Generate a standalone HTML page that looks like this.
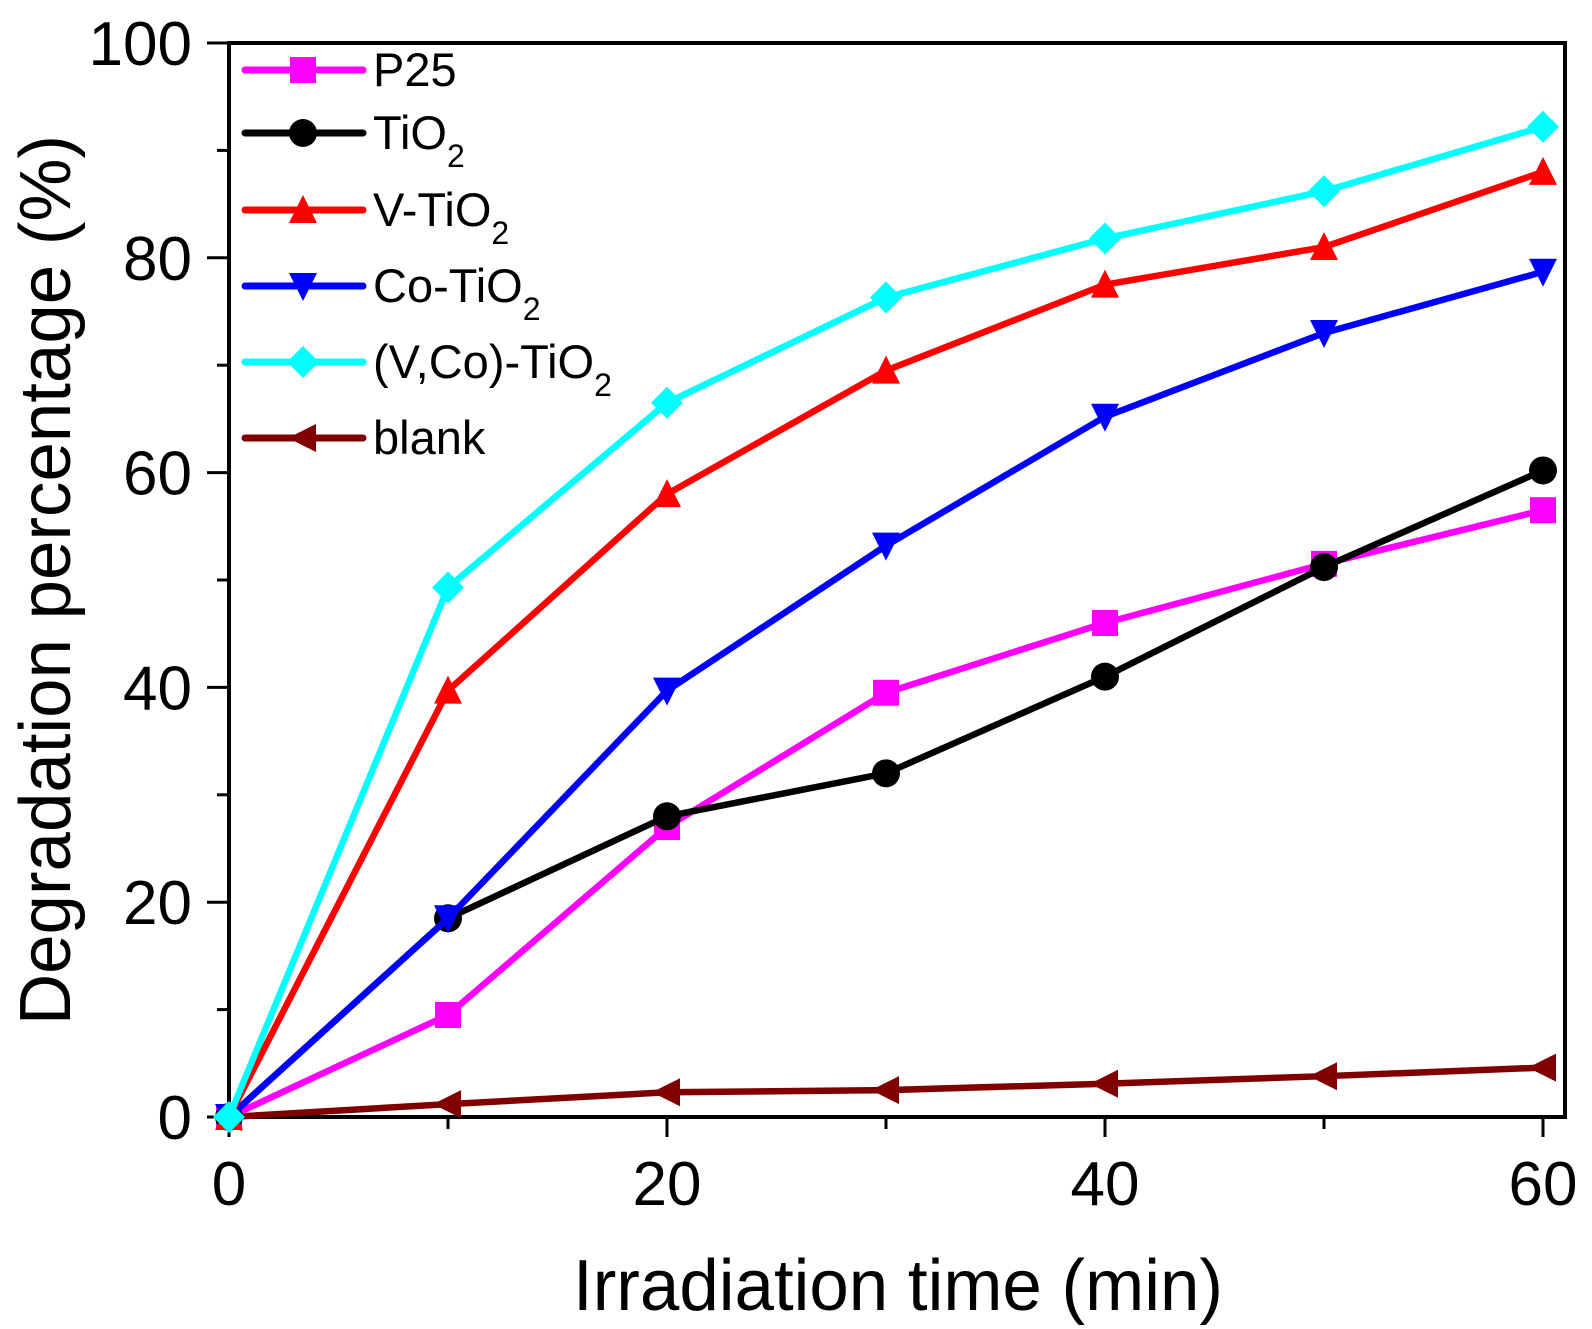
<!DOCTYPE html>
<html><head><meta charset="utf-8"><style>
html,body{margin:0;padding:0;background:#fff;}
svg{display:block;font-family:"Liberation Sans",Arial,sans-serif;}
</style></head><body>
<svg id="chart" width="1592" height="1329" viewBox="0 0 1592 1329" xmlns="http://www.w3.org/2000/svg">
<g id="axes"></g><g id="series"></g><g id="legend"></g>
</svg>
<script>
const times = [0,10,20,30,40,50,60];
const p25 = [0,9.5,27,39.5,46,51.5,56.5];
const tio2 = [0,18.5,28,32,41,51.2,60.2];
const vTio2 = [0,39.7,58,69.5,77.5,81,88];
const coTio2 = [0,18.5,39.7,53.2,65.2,73,78.7];
const vcoTio2 = [0,49.3,66.5,76.3,81.8,86.2,92.2];
const blank = [0,1.2,2.3,2.5,3.1,3.8,4.6];
const xTicks = [0,20,40,60];
const yTicks = [0,20,40,60,80,100];
const seriesNames = ["P25","TiO2","V-TiO2","Co-TiO2","(V,Co)-TiO2","blank"];

const NS="http://www.w3.org/2000/svg";
const X0=229,X1=1543,Y0=1117,Y1=43;
const xs=v=>X0+(v/60)*(X1-X0);
const ys=v=>Y0-(v/100)*(Y0-Y1);
function mk(tag,attrs,parent){const e=document.createElementNS(NS,tag);for(const k in attrs)e.setAttribute(k,attrs[k]);parent.appendChild(e);return e;}
const axes=document.getElementById('axes'),ser=document.getElementById('series'),leg=document.getElementById('legend');

let fr=mk('rect',{x:X0,y:Y1,width:1565-X0,height:Y0-Y1,fill:'none',stroke:'#000','stroke-width':4},axes);


for(let t=0;t<=60;t+=10){
  const major=xTicks.includes(t);
  const l=mk('line',{x1:xs(t),x2:xs(t),y1:Y0,y2:Y0+(major?20:12),stroke:'#000','stroke-width':3},axes);
  
  
}
xTicks.forEach(t=>{
  const tx=mk('text',{x:xs(t),y:1205,'font-size':62,'text-anchor':'middle',fill:'#000'},axes);
  tx.textContent=t;
  
  
});
for(let t=0;t<=100;t+=10){
  const major=yTicks.includes(t);
  const l=mk('line',{x1:X0-(major?22:12),x2:X0,y1:ys(t),y2:ys(t),stroke:'#000','stroke-width':3},axes);
  
  
}
yTicks.forEach(t=>{
  const tx=mk('text',{x:192,y:ys(t)+22,'font-size':62,'text-anchor':'end',fill:'#000'},axes);
  tx.textContent=t;
  
  
});
let xt=mk('text',{x:898,y:1310,'font-size':72,'text-anchor':'middle',fill:'#000',textLength:650,lengthAdjust:'spacingAndGlyphs'},axes);
xt.textContent='Irradiation time (min)';


let yt=mk('text',{x:0,y:0,'font-size':72,'text-anchor':'middle',fill:'#000',transform:'translate(70,580) rotate(-90)',textLength:890,lengthAdjust:'spacingAndGlyphs'},axes);
yt.textContent='Degradation percentage (%)';



function marker(type,cx,cy,color,parent){
  const s=13;let pts;
  if(type==='sq'){return mk('rect',{x:cx-s,y:cy-s,width:2*s,height:2*s,fill:color},parent);}
  if(type==='ci'){return mk('circle',{cx:cx,cy:cy,r:s+1,fill:color},parent);}
  if(type==='up')pts=[[cx,cy-s-2],[cx+s+1,cy+s],[cx-s-1,cy+s]];
  if(type==='dn')pts=[[cx,cy+s+2],[cx+s+1,cy-s],[cx-s-1,cy-s]];
  if(type==='di')pts=[[cx,cy-s-3],[cx+s+3,cy],[cx,cy+s+3],[cx-s-3,cy]];
  if(type==='lt')pts=[[cx-s-2,cy],[cx+s,cy-s-1],[cx+s,cy+s+1]];
  return mk('polygon',{points:pts.map(p=>p.join(',')).join(' '),fill:color},parent);
}
const defs=[
 {name:'p25',data:p25,color:'#ff00ff',m:'sq',ly:70,label:'P25',sub:''},
 {name:'tio2',data:tio2,color:'#000000',m:'ci',ly:133,label:'TiO',sub:'2'},
 {name:'v-tio2',data:vTio2,color:'#ff0000',m:'up',ly:210,label:'V-TiO',sub:'2'},
 {name:'co-tio2',data:coTio2,color:'#0000ff',m:'dn',ly:286,label:'Co-TiO',sub:'2'},
 {name:'vco-tio2',data:vcoTio2,color:'#00ffff',m:'di',ly:362,label:'(V,Co)-TiO',sub:'2'},
 {name:'blank',data:blank,color:'#800000',m:'lt',ly:438,label:'blank',sub:''}
];
const order=[5,0,1,3,2,4];
order.forEach(i=>{
  const d=defs[i];
  const g=mk('g',{},ser);
  
  
  const pl=mk('polyline',{points:times.map((t,j)=>xs(t)+','+ys(d.data[j])).join(' '),fill:'none',stroke:d.color,'stroke-width':6.5,'stroke-linejoin':'round'},g);
  
  
  times.forEach((t,j)=>{
    const m=marker(d.m,xs(t),ys(d.data[j]),d.color,g);
    
    
  });
});
defs.forEach(d=>{
  const g=mk('g',{},leg);
  
  
  mk('line',{x1:245,x2:363,y1:d.ly,y2:d.ly,stroke:d.color,'stroke-width':7,'stroke-linecap':'round'},g);
  marker(d.m,303,d.ly,d.color,g);
  const tx=mk('text',{x:373,y:d.ly+16,'font-size':47,fill:'#000'},g);
  tx.textContent=d.label;
  if(d.sub){const ts=mk('tspan',{'font-size':32,dy:18},tx);ts.textContent=d.sub;}
});
</script>
</body></html>
